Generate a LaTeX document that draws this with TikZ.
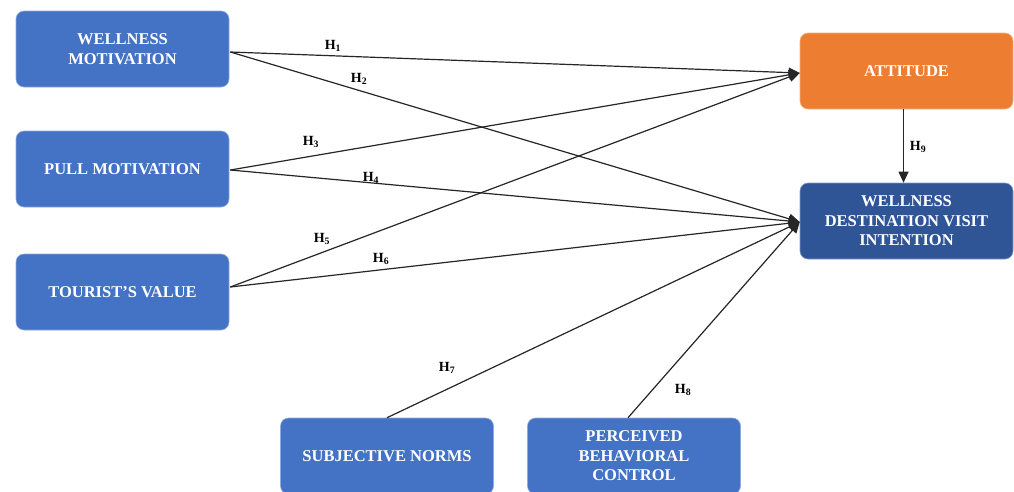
\documentclass[tikz,border=0pt]{standalone}
\usepackage{fontspec}
\setmainfont{Liberation Serif}
\usetikzlibrary{arrows.meta,calc}
\definecolor{bluebox}{HTML}{4472C4}
\definecolor{darkbox}{HTML}{2F5597}
\definecolor{orangebox}{HTML}{ED7D31}
\begin{document}
\begin{tikzpicture}[x=1pt,y=-1pt,
  box/.style={rectangle,rounded corners=8pt,fill=bluebox,draw=bluebox!60!white,line width=0.6pt,
    minimum width=213pt,minimum height=76pt,text=white,align=center,inner sep=2pt,
    font=\fontsize{16.5}{19.5}\selectfont\bfseries},
  link/.style={draw=black!85,line width=1.2pt},
  arr/.style={link,-{Triangle[length=11pt,width=10pt]}},
  hlab/.style={font=\fontsize{14}{16}\selectfont\bfseries,inner sep=0pt}]
\useasboundingbox (0,0) rectangle (1014,491);
\clip (0,0) rectangle (1014,491);
\fill[white] (0,0) rectangle (1014,491);
% nodes
\node[box] (wm) at (122.5,49) {WELLNESS\\MOTIVATION};
\node[box] (pm) at (122.5,169) {PULL MOTIVATION};
\node[box] (tv) at (122.5,292) {TOURIST’S VALUE};
\node[box,fill=orangebox,draw=orangebox!60!white] (att) at (906.5,71) {ATTITUDE};
\node[box,fill=darkbox,draw=darkbox!60!white] (wdvi) at (906.5,221) {WELLNESS\\DESTINATION VISIT\\INTENTION};
\node[box] (sn) at (387,456) {SUBJECTIVE NORMS};
\node[box] (pbc) at (634,456) {PERCEIVED\\BEHAVIORAL\\CONTROL};
% anchor points
\coordinate (wmo) at ($(wm.east)+(1,3)$);
\coordinate (pmo) at ($(pm.east)+(1,1)$);
\coordinate (tvo) at ($(tv.east)+(1,-5)$);
\coordinate (atti) at ($(att.west)+(0,2)$);
\coordinate (wdvii) at ($(wdvi.west)+(0,1)$);
\coordinate (sno) at (sn.north);
\coordinate (pbco) at ($(pbc.north)+(-6,0)$);
\coordinate (atto) at ($(att.south)+(-3,0)$);
\coordinate (wdvit) at ($(wdvi.north)+(-3,0)$);
% connectors
\draw[arr] (wmo) -- (atti);
\draw[arr] (wmo) -- (wdvii);
\draw[arr] (pmo) -- (atti);
\draw[arr] (pmo) -- (wdvii);
\draw[arr] (tvo) -- (atti);
\draw[arr] (tvo) -- (wdvii);
\draw[arr] (sno) -- (wdvii);
\draw[arr] (pbco) -- (wdvii);
\draw[arr,line width=1pt] (atto) -- (wdvit);
% labels
\node[hlab] (h1) at (333,46) {H\textsubscript{1}};
\node[hlab] (h2) at (359,79) {H\textsubscript{2}};
\node[hlab] (h3) at (311,142) {H\textsubscript{3}};
\node[hlab] (h4) at (371,178) {H\textsubscript{4}};
\node[hlab] (h5) at (322,239) {H\textsubscript{5}};
\node[hlab] (h6) at (381,259) {H\textsubscript{6}};
\node[hlab] (h7) at (447,368) {H\textsubscript{7}};
\node[hlab] (h8) at (683,390) {H\textsubscript{8}};
\node[hlab] (h9) at (918,147) {H\textsubscript{9}};
\end{tikzpicture}
\end{document}
